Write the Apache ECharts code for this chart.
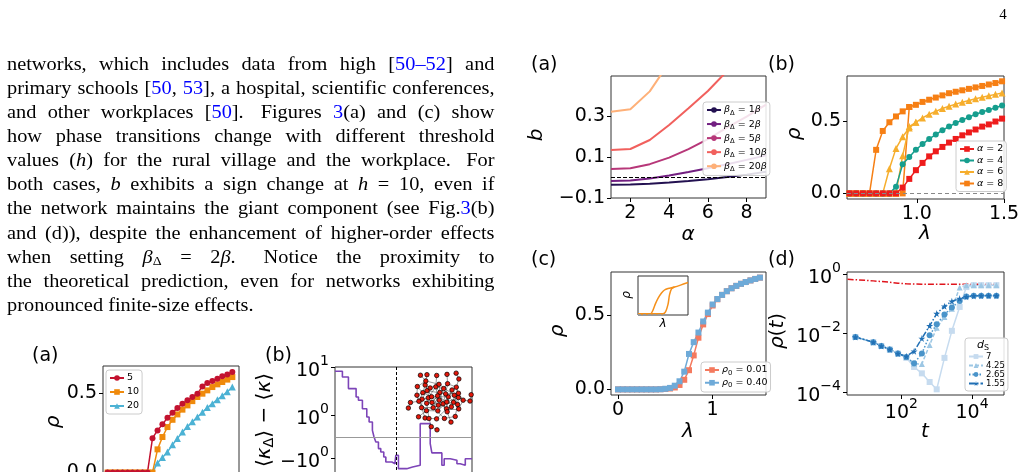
<!DOCTYPE html>
<html>
<head>
<meta charset="utf-8">
<style>
html, body { margin: 0; padding: 0; background: #fff; }
#main { width: 1028px; height: 472px; }
</style>
<script src="https://cdn.jsdelivr.net/npm/echarts@6.0.0/dist/echarts.min.js"></script>
</head>
<body>
<div id="main"></div>
<script>
// ---------- text block on the left ----------
const paragraph = [
  'networks, which includes data from high [{c|50–52}] and',
  'primary schools [{c|50}, {c|53}], a hospital, scientific conferences,',
  'and other workplaces [{c|50}]. Figures {c|3}(a) and (c) show',
  'how phase transitions change with different threshold',
  'values ({i|h}) for the rural village and the workplace. For',
  'both cases, {i|b} exhibits a sign change at {i|h} = 10, even if',
  'the network maintains the giant component (see Fig.{c|3}(b)',
  'and (d)), despite the enhancement of higher-order effects',
  'when setting {i|β}{s|Δ} = 2{i|β}. Notice the proximity to',
  'the theoretical prediction, even for networks exhibiting',
  'pronounced finite-size effects.'
];

// ---------- right (a): b vs alpha ----------
const alphaA = [1, 2, 3, 4, 5, 6, 7, 8, 9];
const betaFactors = [1, 2, 5, 10, 20];
const bBeta1 = [-0.035, -0.034, -0.030, -0.024, -0.017, -0.008, 0.002, 0.014, 0.028];
const bBeta2 = [-0.017, -0.015, -0.005, 0.010, 0.027, 0.045, 0.065, 0.086, 0.108];
const bBeta5 = [0.041, 0.045, 0.065, 0.097, 0.138, 0.187, 0.244, 0.297, 0.355];
const bBeta10 = [0.134, 0.139, 0.183, 0.256, 0.338, 0.422, 0.52, 0.63, 0.75];
const bBeta20 = [0.321, 0.333, 0.42, 0.56, 0.7, 0.85, 1.0, 1.15, 1.3];

// ---------- right (b): rho vs lambda for alpha ----------
const lamB = [0.615, 0.653, 0.691, 0.729, 0.767, 0.805, 0.843, 0.881, 0.919, 0.957, 0.995, 1.033,
              1.071, 1.109, 1.147, 1.185, 1.223, 1.261, 1.299, 1.337, 1.375, 1.413, 1.451, 1.489];
const rhoAlpha2 = [0, 0, 0, 0, 0, 0, 0, 0, 0.04, 0.10, 0.16, 0.21, 0.255, 0.29, 0.32, 0.35, 0.375, 0.40, 0.42, 0.44, 0.46, 0.475, 0.495, 0.515];
const rhoAlpha4 = [0, 0, 0, 0, 0, 0, 0, 0.045, 0.2, 0.25, 0.30, 0.34, 0.375, 0.405, 0.435, 0.46, 0.485, 0.505, 0.525, 0.545, 0.56, 0.575, 0.59, 0.605];
const rhoAlpha6 = [0, 0, 0, 0, 0, 0, 0.17, 0.31, 0.39, 0.45, 0.49, 0.52, 0.545, 0.565, 0.585, 0.60, 0.615, 0.628, 0.64, 0.652, 0.662, 0.672, 0.682, 0.692];
const rhoAlpha6low = [0, 0, 0, 0, 0, 0, 0, 0, 0.26, 0.46, 0.49];
const rhoAlpha8 = [0, 0, 0, 0, 0.30, 0.43, 0.49, 0.53, 0.565, 0.595, 0.61, 0.63, 0.645, 0.66, 0.675, 0.69, 0.70, 0.71, 0.72, 0.73, 0.74, 0.75, 0.76, 0.772];
const rhoAlpha8low = [0, 0, 0, 0, 0, 0, 0, 0, 0, 0.595];

// ---------- right (c): rho vs lambda for rho0 ----------
const lamC = [0, 0.05, 0.1, 0.15, 0.2, 0.25, 0.3, 0.35, 0.4, 0.45, 0.5, 0.55, 0.6, 0.65, 0.7, 0.75,
              0.8, 0.85, 0.9, 0.95, 1.0, 1.05, 1.1, 1.15, 1.2, 1.25, 1.3, 1.35, 1.4, 1.45, 1.5];
const rhoSeed001 = [0, 0, 0, 0, 0, 0, 0, 0, 0, 0.001, 0.003, 0.006, 0.013, 0.03, 0.065, 0.13, 0.23, 0.35, 0.44, 0.51,
                    0.568, 0.61, 0.64, 0.665, 0.685, 0.701, 0.715, 0.727, 0.738, 0.748, 0.757];
const rhoSeed040 = [0, 0, 0, 0, 0, 0, 0, 0, 0, 0.001, 0.004, 0.01, 0.025, 0.055, 0.12, 0.24, 0.32, 0.385, 0.46, 0.52,
                    0.575, 0.612, 0.64, 0.665, 0.685, 0.701, 0.715, 0.727, 0.738, 0.748, 0.757];
const insetLamUp = [0, 0.25, 0.3, 0.35, 0.4, 0.47, 0.53, 0.6, 0.73, 0.85, 1.0];
const insetRhoUp = [0, 0, 0.1, 0.27, 0.41, 0.55, 0.63, 0.67, 0.71, 0.76, 0.83];
const insetLamLow = [0, 0.5, 0.55, 0.6, 0.63, 0.67, 0.73];
const insetRhoLow = [0, 0, 0.05, 0.25, 0.5, 0.66, 0.71];

// ---------- right (d): rho(t) ----------
const tD = [5, 16, 27, 47, 80, 138, 229, 380, 631, 1000, 1660, 2690, 4470, 6920, 11200, 18200, 29500, 49000];
const tRed = [3, 16, 27, 47, 80, 138, 229, 380, 631, 1000, 1660, 2690, 4470, 6920, 11200, 18200, 29500, 49000];
const rhoRed = [0.68, 0.6, 0.57, 0.54, 0.5, 0.48, 0.47, 0.465, 0.46, 0.46, 0.46, 0.46, 0.46, 0.46, 0.46, 0.46, 0.46, 0.46];
const dsLabels = ['7', '4.25', '2.65', '1.55'];
const rhoDs7 = [0.0076, 0.0051, 0.0038, 0.0029, 0.0021, 0.0015, 0.00074, 0.00045, 0.00023, 0.00013, 0.0015, 0.0123, 0.079, 0.37, 0.43, 0.43, 0.43, 0.43];
const rhoDs425 = [0.0076, 0.0051, 0.0038, 0.0029, 0.0021, 0.0016, 0.00095, 0.00093, 0.0041, 0.0155, 0.036, 0.069, 0.355, 0.43, 0.43, 0.43, 0.43, 0.43];
const rhoDs265 = [0.0076, 0.0051, 0.0038, 0.0029, 0.0021, 0.0016, 0.00098, 0.0021, 0.0087, 0.0204, 0.044, 0.075, 0.126, 0.178, 0.19, 0.19, 0.19, 0.19];
const rhoDs155 = [0.0076, 0.0051, 0.0038, 0.0029, 0.0021, 0.0017, 0.0025, 0.0068, 0.0182, 0.047, 0.083, 0.123, 0.151, 0.174, 0.186, 0.19, 0.19, 0.19];

// ---------- bottom (a): rho for thresholds ----------
const hLabels = ['5', '10', '20'];
const xLow = [0.034, 0.071, 0.107, 0.144, 0.181, 0.217, 0.254, 0.291, 0.327, 0.364, 0.401, 0.437, 0.474,
              0.511, 0.547, 0.584, 0.621, 0.657, 0.694, 0.731, 0.767, 0.804, 0.841, 0.877, 0.914, 0.951];
const rhoH5 = [0, 0, 0, 0, 0, 0, 0, 0, 0, 0.217, 0.266, 0.304, 0.346, 0.378, 0.407, 0.435, 0.456, 0.477, 0.498, 0.544, 0.565, 0.578, 0.593, 0.608, 0.62, 0.635];
const rhoH10 = [0, 0, 0, 0, 0, 0, 0, 0, 0, 0, 0.146, 0.224, 0.287, 0.333, 0.367, 0.397, 0.424, 0.451, 0.477, 0.498, 0.519, 0.54, 0.557, 0.572, 0.587, 0.603];
const rhoH20 = [0, 0, 0, 0, 0, 0, 0, 0, 0, 0, 0.06, 0.095, 0.13, 0.175, 0.215, 0.255, 0.29, 0.32, 0.35, 0.38, 0.41, 0.435, 0.46, 0.485, 0.51, 0.54];

// ---------- bottom (b): <k_tri> - <k> (symlog) ----------
const xKappa = [0.0, 0.054, 0.098, 0.154, 0.171, 0.2, 0.232, 0.249, 0.273, 0.285, 0.298, 0.317, 0.334, 0.356, 0.371, 0.415,
                0.439, 0.444, 0.463, 0.493, 0.524, 0.566, 0.622, 0.695, 0.707, 0.78, 0.797, 0.841, 0.89, 0.914, 0.951, 1.0];
const dKappa = [8.18, 6.25, 3.59, 2.41, 2.06, 1.38, 0.93, 0.70, 0.31, 0.0, -0.23, -0.54, -0.70, -0.93, -1.18, -1.28,
                -1.15, -0.85, -1.62, -1.62, -1.5, -1.38, 0.62, -0.31, -0.74, -1.38, -1.01, -1.09, -1.28, -1.38, -1.01, -1.01];
const kappaTicks = [-1, 1, 10];
const kappaMark = 0.446;

// inset network (node count + edge list)
const netNodeCount = 60;
const netEdges = '0-1 0-2 0-3 0-5 1-2 1-4 1-6 2-3 2-7 3-4 3-8 4-5 4-9 5-6 5-10 6-7 6-11 7-8 7-12 8-9 8-13 9-10 9-14 ' +
  '10-11 10-15 11-12 11-16 12-13 12-17 13-14 13-18 14-15 14-19 15-16 15-20 16-17 16-21 17-18 17-22 18-19 18-23 ' +
  '19-20 19-24 20-21 20-25 21-22 21-26 22-23 22-27 23-24 23-28 24-25 24-29 25-26 25-30 26-27 26-31 27-28 27-32 ' +
  '28-29 28-33 29-30 29-34 30-31 30-35 31-32 31-36 32-33 32-37 33-34 33-38 34-35 34-39 35-36 36-37 37-38 38-39 ' +
  '39-0 2-20 5-25 8-30 11-33 14-36 17-39 40-3 41-7 42-12 43-18 44-22 45-27 46-31 47-35 48-38 49-1 50-9 51-15 ' +
  '52-20 53-26 54-29 55-54 56-55 57-41 58-46 59-49 40-44 45-50';

// ================= helpers =================
const FONT = 'DejaVu Sans';
const SERIF = '"Liberation Serif", serif';
const fmt1 = v => (v < 0 ? '\u2212' : '') + Math.abs(v).toFixed(1);
const powLabel = (e, neg) => (neg ? '{b|\u221210}' : '{b|10}') + '{p|' + (e < 0 ? '\u2212' : '') + Math.abs(e) + '}';
const fmtPow = v => powLabel(Math.round(v), false);
const LINSCALE = 0.4 / 0.9;
const symlog = v => Math.abs(v) <= 1 ? v * LINSCALE : Math.sign(v) * (LINSCALE + Math.log10(Math.abs(v)));
const symlogInv = t => Math.abs(t) <= LINSCALE ? t / LINSCALE : Math.sign(t) * Math.pow(10, Math.abs(t) - LINSCALE);
const zip = (xs, ys, fx, fy) => ys.map((y, i) => [fx ? fx(xs[i]) : xs[i], fy ? fy(y) : y]);
const POW_RICH = {
  b: {fontFamily: FONT, fontSize: 19, lineHeight: 26, verticalAlign: 'bottom', color: '#000'},
  p: {fontFamily: FONT, fontSize: 14, lineHeight: 15, verticalAlign: 'top', color: '#000'}
};

function axis(gi, min, max, ticks, fmt, margin) {
  return {
    type: 'value', gridIndex: gi, min: min, max: max,
    axisLine: {show: false, onZero: false},
    axisTick: {show: !!ticks, length: 4, customValues: ticks || [], lineStyle: {color: '#000', width: 1}},
    axisLabel: {show: !!ticks, customValues: ticks || [], formatter: fmt, fontFamily: FONT, fontSize: 19,
      color: '#000', margin: margin == null ? 6 : margin, rich: POW_RICH},
    splitLine: {show: false}
  };
}

function rich(fs) {
  return {
    i: {fontFamily: FONT, fontStyle: 'italic', fontSize: fs, lineHeight: fs + 3},
    n: {fontFamily: FONT, fontSize: fs, lineHeight: fs + 3},
    s: {fontFamily: FONT, fontSize: fs * 0.72, lineHeight: fs * 0.6, verticalAlign: 'bottom'}
  };
}

function legendBox(extra) {
  return Object.assign({
    orient: 'vertical', itemWidth: 14, itemHeight: 7, itemGap: 3,
    padding: [3, 3, 3, 3], borderColor: '#cccccc', borderWidth: 1, borderRadius: 3,
    backgroundColor: 'rgba(255,255,255,0.85)', selectedMode: false,
    textStyle: {fontFamily: FONT, fontSize: 9.5, color: '#000', padding: [0, 0, 0, -2], rich: rich(9.5)}
  }, extra);
}

function line(name, xi, data, color, opts) {
  return Object.assign({
    type: 'line', name: name, xAxisIndex: xi, yAxisIndex: xi, data: data,
    symbol: 'none', symbolSize: 6, showSymbol: true,
    lineStyle: {color: color, width: 1.5}, itemStyle: {color: color},
    emphasis: {disabled: true}, silent: true, animation: false
  }, opts || {});
}

const magma = ['#231151', '#721f81', '#b73779', '#f1605d', '#feb078'];
const bBeta = [bBeta1, bBeta2, bBeta5, bBeta10, bBeta20];
const betaNames = betaFactors.map(f => 'βΔ = ' + f + 'β');
const STAR = 'path://M50,0 L61,35 98,35 68,57 79,91 50,70 21,91 32,57 2,35 39,35 Z';

const series = [];
// (a)
bBeta.forEach((arr, k) => {
  const s = line(betaNames[k], 0, zip(alphaA, arr), magma[k], {lineStyle: {color: magma[k], width: 2}});
  if (k === 0) {
    s.markLine = {silent: true, symbol: 'none', label: {show: false},
      lineStyle: {color: '#000', type: [4, 2], width: 1}, data: [{yAxis: 0}]};
  }
  series.push(s);
});
// (b)
const colB = {a2: '#ee1c1c', a4: '#169e8e', a6: '#f6ae2d', a8: '#f67f14'};
series.push(line('α8low', 1, zip(lamB, rhoAlpha8low), colB.a8, {symbol: 'rect'}));
series.push(line('α = 8', 1, zip(lamB, rhoAlpha8), colB.a8, {symbol: 'rect'}));
series.push(line('α6low', 1, zip(lamB, rhoAlpha6low), colB.a6, {symbol: 'triangle', symbolSize: 7}));
series.push(line('α = 6', 1, zip(lamB, rhoAlpha6), colB.a6, {symbol: 'triangle', symbolSize: 7}));
series.push(line('α = 4', 1, zip(lamB, rhoAlpha4), colB.a4, {symbol: 'circle'}));
series.push(line('α = 2', 1, zip(lamB, rhoAlpha2), colB.a2, {symbol: 'rect',
  markLine: {silent: true, symbol: 'none', label: {show: false},
    lineStyle: {color: '#888', type: [4, 3], width: 1}, data: [{yAxis: 0}]}}));
// (c)
series.push(line('ρ0 = 0.01', 2, zip(lamC, rhoSeed001), '#f47a5f', {symbol: 'rect'}));
series.push(line('ρ0 = 0.40', 2, zip(lamC, rhoSeed040), '#6eaad8', {symbol: 'rect'}));
series.push(line('insetUp', 3, zip(insetLamUp, insetRhoUp), '#f5901a', {smooth: 0.3,
  markLine: {silent: true, symbol: 'none', label: {show: false},
    lineStyle: {color: '#999', type: [3, 2], width: 1}, data: [{yAxis: 0}]}}));
series.push(line('insetLow', 3, zip(insetLamLow, insetRhoLow), '#f5901a', {smooth: 0.3}));
// (d)
const colD = ['#c6dbef', '#9dc7e4', '#4a94ca', '#2170b5'];
const symD = ['rect', 'triangle', 'circle', STAR];
const dashD = ['solid', [4, 2], [1.5, 2], [6, 2, 1.5, 2]];
[rhoDs7, rhoDs425, rhoDs265, rhoDs155].forEach((arr, k) => {
  series.push(line(dsLabels[k], 4, zip(tD, arr, Math.log10, Math.log10), colD[k],
    {symbol: symD[k], symbolSize: k === 3 ? 7 : 6, lineStyle: {color: colD[k], width: 1.5, type: dashD[k]}}));
});
series.push(line('theory', 4, zip(tRed, rhoRed, Math.log10, Math.log10), '#e0141c',
  {lineStyle: {color: '#e0141c', width: 1.5, type: [6, 2, 1.5, 2]}}));
// bottom (a)
const colH = ['#c3122f', '#ef8a0c', '#4cb2d4'];
const symH = ['circle', 'rect', 'triangle'];
[rhoH20, rhoH10, rhoH5].forEach((arr, j) => {
  const k = 2 - j;
  series.push(line(hLabels[k], 5, zip(xLow, arr), colH[k], {symbol: symH[k], symbolSize: k === 2 ? 7 : 6}));
});
// bottom (b)
series.push(line('kappa', 6, zip(xKappa, dKappa, null, symlog), '#7d45b8', {
  step: 'end', lineStyle: {color: '#7d45b8', width: 1.6},
  markLine: {silent: true, symbol: 'none', label: {show: false}, data: [
    {yAxis: 0, lineStyle: {color: '#999', type: 'solid', width: 1.2}},
    {xAxis: kappaMark, lineStyle: {color: '#000', type: [3, 2], width: 1}}
  ]}
}));
// network inset
const netLinks = netEdges.trim().split(/\s+/).map(p => {
  const ab = p.split('-');
  return {source: ab[0], target: ab[1]};
});
const netNodes = [];
for (let i = 0; i < netNodeCount; i++) netNodes.push({id: String(i), name: String(i)});
series.push({
  type: 'graph', layout: 'force', left: 408, top: 368, width: 62, height: 62,
  force: {repulsion: 3.8, edgeLength: [3, 5], gravity: 0.4, friction: 0.6, layoutAnimation: false},
  roam: false, symbolSize: 4.5, silent: true, z: 5,
  itemStyle: {color: '#e3170a', borderColor: '#000', borderWidth: 0.7},
  lineStyle: {color: '#444', width: 0.6, opacity: 0.9},
  label: {show: false}, emphasis: {disabled: true},
  data: netNodes, links: netLinks
});

// ================= graphic text =================
const g = [];
function txt(x, y, text, font, extra) {
  g.push(Object.assign({type: 'text', x: x, y: y, silent: true, z: 100,
    style: Object.assign({text: text, font: font, fill: '#000', align: 'center', verticalAlign: 'middle'}, extra && extra.style)},
    extra && extra.el));
}
const F19 = '19px ' + FONT;
const FI20 = 'italic 20px ' + FONT;
// panel letters
txt(531, 65, '(a)', F19, {style: {align: 'left'}});
txt(768, 65, '(b)', F19, {style: {align: 'left'}});
txt(531, 260, '(c)', F19, {style: {align: 'left'}});
txt(768, 260, '(d)', F19, {style: {align: 'left'}});
txt(32, 356, '(a)', F19, {style: {align: 'left'}});
txt(265, 356, '(b)', F19, {style: {align: 'left'}});
// axis titles
const R90 = {rotation: Math.PI / 2};
txt(537, 135, 'b', FI20, {el: R90});
txt(688, 235, 'α', FI20);
txt(795, 134, 'ρ', FI20, {el: R90});
txt(925, 234, 'λ', FI20);
txt(558, 331, 'ρ', FI20, {el: R90});
txt(688, 432, 'λ', FI20);
txt(627, 295, 'ρ', 'italic 12px ' + FONT, {el: R90});
txt(663, 324, 'λ', 'italic 12px ' + FONT);
txt(778, 331, '{i|ρ}{n|(}{i|t}{n|)}', FI20, {el: R90, style: {rich: rich(20)}});
txt(925, 432, 't', FI20);
txt(54, 422, 'ρ', FI20, {el: R90});
txt(265, 373, '{n|⟨}{i|κ}{s|Δ}{n|⟩ − ⟨}{i|κ}{n|⟩}', FI20, {el: R90, style: {align: 'right', rich: rich(20)}});
txt(983, 345, '{i|d}{s|S}', 'italic 11px ' + FONT, {style: {rich: rich(11)}});
// page number
txt(1003, 15, '4', '15px ' + SERIF);

// justified paragraph
const TX = {size: 18.5, sx: 1.1, left: 7, right: 494.5, top: 65, step: 24.1};
const mctx = document.createElement('canvas').getContext('2d');
const tokFont = k => k === 'i' ? 'italic ' + TX.size + 'px ' + SERIF
  : (k === 's' ? (TX.size * 0.68).toFixed(1) + 'px ' + SERIF : TX.size + 'px ' + SERIF);
function tokens(word) {
  const out = [];
  const re = /\{(\w)\|([^}]*)\}|([^{]+)/g;
  let m;
  while ((m = re.exec(word))) out.push(m[3] !== undefined ? {k: 'r', t: m[3]} : {k: m[1], t: m[2]});
  return out;
}
const tokW = tk => { mctx.font = tokFont(tk.k); return mctx.measureText(tk.t).width * TX.sx; };
mctx.font = tokFont('r');
const spaceW = mctx.measureText(' ').width * TX.sx;
paragraph.forEach((ln, li) => {
  const words = ln.split(/\s+/).map(w => {
    const ts = tokens(w);
    return {raw: w, ts: ts, w: ts.reduce((s, t) => s + tokW(t), 0)};
  });
  const total = words.reduce((s, w) => s + w.w, 0);
  const weights = words.slice(0, -1).map(w => (/\.$/.test(w.raw) && w.raw !== 'Fig.') ? 1.5 : 1);
  const sumW = weights.reduce((a, b) => a + b, 0);
  const lastLine = li === paragraph.length - 1;
  const unit = lastLine ? spaceW : (TX.right - TX.left - total) / sumW;
  const y = TX.top + li * TX.step;
  let x = TX.left;
  words.forEach((w, wi) => {
    w.ts.forEach(tk => {
      g.push({type: 'text', x: x, y: y + (tk.k === 's' ? 4 : 0), scaleX: TX.sx, silent: true, z: 100,
        style: {text: tk.t, font: tokFont(tk.k), fill: tk.k === 'c' ? '#0000ff' : '#000', align: 'left', verticalAlign: 'middle'}});
      x += tokW(tk);
    });
    if (wi < weights.length) x += unit * weights[wi];
  });
});

// ================= option =================
const gridBase = {show: true, borderColor: '#333', borderWidth: 1, backgroundColor: 'transparent', containLabel: false, outerBoundsMode: 'none'};
const grids = [
  {left: 611, top: 76, width: 155, height: 122},
  {left: 847, top: 76, width: 157, height: 123},
  {left: 611, top: 272, width: 155, height: 123},
  {left: 638, top: 276, width: 50, height: 39},
  {left: 847, top: 272, width: 157, height: 123},
  {left: 103, top: 366, width: 136, height: 112},
  {left: 335, top: 367, width: 137, height: 123}
].map(gr => Object.assign({}, gridBase, gr));

const xAxes = [
  axis(0, 1, 9, [2, 4, 6, 8], v => String(v)),
  axis(1, 0.6, 1.5, [1.0, 1.5], fmt1),
  axis(2, -0.074, 1.564, [0, 1], v => String(v)),
  axis(3, 0, 1, null),
  axis(4, 0.46, 4.906, [2, 4], fmtPow, 2),
  axis(5, 0, 1, null),
  axis(6, 0, 1, null)
];
const yAxes = [
  axis(0, -0.1, 0.495, [-0.1, 0.1, 0.3], fmt1),
  axis(1, -0.0385, 0.8085, [0, 0.5], fmt1),
  axis(2, -0.038, 0.795, [0, 0.5], fmt1),
  axis(3, -0.03, 1, null),
  axis(4, -4.078, 0.078, [-4, -2, 0], fmtPow),
  axis(5, -0.035, 0.673, [0, 0.5], fmt1),
  axis(6, -1.095, 1.446, kappaTicks.map(symlog), v => {
    const r = Math.round(symlogInv(v));
    return powLabel(Math.round(Math.log10(Math.abs(r))), r < 0);
  })
];

const option = {
  backgroundColor: '#fff',
  animation: false,
  grid: grids,
  xAxis: xAxes,
  yAxis: yAxes,
  legend: [
    legendBox({left: 703, top: 102, data: betaNames, itemGap: 2.8,
      formatter: n => '{i|β}{s|Δ}{n| = ' + n.split('= ')[1].replace('β', '') + '}{i|β}'}),
    legendBox({left: 956, top: 141, data: ['α = 2', 'α = 4', 'α = 6', 'α = 8'], itemGap: 1.5,
      formatter: n => '{i|α}{n|' + n.slice(1) + '}'}),
    legendBox({left: 701, top: 362, data: ['ρ0 = 0.01', 'ρ0 = 0.40'], itemGap: 1.5,
      formatter: n => '{i|ρ}{s|0}{n|' + n.slice(2) + '}'}),
    legendBox({left: 965, top: 338, data: dsLabels, itemGap: 0, padding: [14, 3, 3, 3], itemHeight: 6,
      textStyle: {fontFamily: FONT, fontSize: 8.5, color: '#000', padding: [0, 0, 0, -2]}}),
    legendBox({left: 106, top: 370, data: hLabels, itemGap: 4,
      textStyle: {fontFamily: FONT, fontSize: 9.5, color: '#000', padding: [0, 0, 0, -2]}})
  ],
  series: series,
  graphic: {elements: g}
};

const chart = echarts.init(document.getElementById('main'));
chart.setOption(option);
</script>
</body>
</html>
